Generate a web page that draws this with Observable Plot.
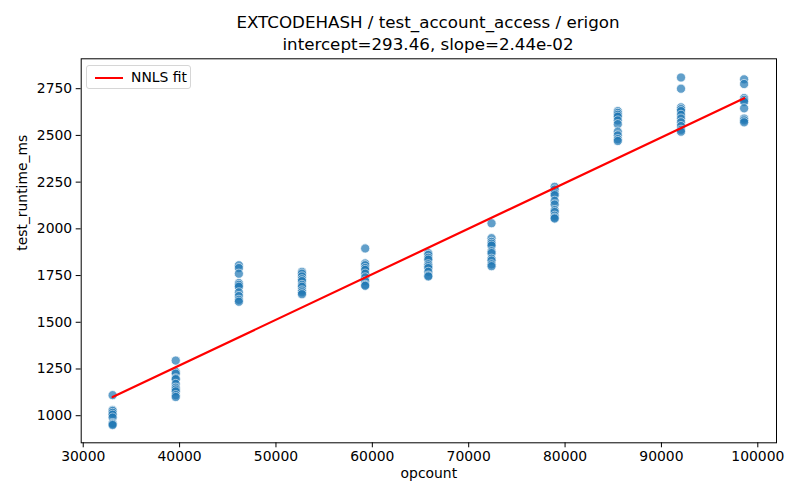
<!DOCTYPE html>
<html>
<head>
<meta charset="utf-8">
<script src="https://cdn.jsdelivr.net/npm/d3@7"></script>
<script src="https://cdn.jsdelivr.net/npm/@observablehq/plot@0.6"></script>
<style>
  body { margin: 0; background: #fff; font-family: "DejaVu Sans", sans-serif; }
  #wrap { position: relative; width: 800px; height: 500px; }
  #title { position: absolute; left: 0; top: 11px; width: 856px; text-align: center; font-size: 16.7px; line-height: 22px; color: #000; }
  #legend { position: absolute; left: 86px; top: 65px; width: 105px; height: 24px; border: 1px solid #d6d6d6; border-radius: 3px; background: rgba(255,255,255,0.8); box-sizing: border-box; }
  #legend .ln { position: absolute; left: 8px; top: 10.5px; width: 28px; height: 2px; background: #ff0000; }
  #legend .tx { position: absolute; left: 44px; top: 3px; font-size: 13.9px; line-height: 16px; }
</style>
</head>
<body>
<div id="wrap">
  <div id="chart"></div>
  <div id="title">EXTCODEHASH / test_account_access / erigon<br>intercept=293.46, slope=2.44e-02</div>
  <div id="legend"><div class="ln"></div><div class="tx">NNLS fit</div></div>
</div>
<script>
// opcount groups
const opcounts = [33050, 39600, 46150, 52700, 59260, 65810, 72370, 78920, 85470, 92030, 98580];
// runtimes (ms) per opcount group
const runtimes = [
  [1110, 1030, 1025, 1015, 1005, 990, 960, 955, 950],
  [1295, 1235, 1225, 1200, 1195, 1170, 1150, 1140, 1130, 1110, 1100],
  [1805, 1790, 1760, 1710, 1700, 1690, 1660, 1640, 1620, 1610],
  [1770, 1760, 1745, 1730, 1720, 1700, 1690, 1670, 1660, 1650],
  [1895, 1815, 1805, 1790, 1780, 1760, 1740, 1720, 1700, 1695],
  [1870, 1860, 1845, 1835, 1810, 1800, 1790, 1770, 1750, 1745],
  [2030, 1950, 1930, 1920, 1910, 1880, 1870, 1840, 1830, 1810, 1800],
  [2225, 2210, 2190, 2180, 2150, 2130, 2100, 2090, 2070, 2060, 2055],
  [2630, 2620, 2610, 2600, 2580, 2560, 2520, 2500, 2480, 2470],
  [2810, 2750, 2650, 2640, 2630, 2610, 2590, 2570, 2550, 2530, 2520],
  [2800, 2775, 2700, 2690, 2680, 2645, 2590, 2580, 2570]
];
const intercept = 293.46;
const slope = 2.44e-2;
const xTicks = [30000, 40000, 50000, 60000, 70000, 80000, 90000, 100000];
const yTicks = [1000, 1250, 1500, 1750, 2000, 2250, 2500, 2750];

const points = opcounts.flatMap((x, i) => runtimes[i].map(y => ({x, y})));
const xMin = d3.min(opcounts), xMax = d3.max(opcounts);
const fit = [xMin, xMax].map(x => ({x, y: intercept + slope * x}));

const chart = Plot.plot({
  width: 800,
  height: 500,
  marginTop: 58.3,
  marginBottom: 57.7,
  marginLeft: 80.7,
  marginRight: 24,
  style: { fontFamily: "DejaVu Sans, sans-serif", fontSize: "13.9px", color: "#000", background: "#fff" },
  x: { domain: [29790, 101940], ticks: xTicks, tickFormat: d => String(d), label: null },
  y: { domain: [855, 2910], ticks: yTicks, tickFormat: d => String(d), label: null },
  marks: [
    Plot.axisX({ ticks: xTicks, tickFormat: d => String(d), tickSize: 5, tickPadding: 3, fontSize: 13.9, label: null, stroke: "#000" }),
    Plot.axisY({ ticks: yTicks, tickFormat: d => String(d), tickSize: 5, tickPadding: 4, fontSize: 13.9, label: null, stroke: "#000" }),
    Plot.dot(points, { x: "x", y: "y", r: 4.6, fill: "#1f77b4", stroke: "#fff", strokeWidth: 0.8, opacity: 0.7 }),
    Plot.line(fit, { x: "x", y: "y", stroke: "#ff0000", strokeWidth: 2.2 }),
    Plot.frame({ stroke: "#000", strokeWidth: 1 }),
    Plot.text(["opcount"], { frameAnchor: "bottom", dy: 35, fontSize: 13.9, fill: "#000" }),
    Plot.text(["test_runtime_ms"], { frameAnchor: "left", dx: -59, rotate: -90, fontSize: 13.9, fill: "#000" })
  ]
});
document.getElementById("chart").appendChild(chart);
</script>
</body>
</html>
